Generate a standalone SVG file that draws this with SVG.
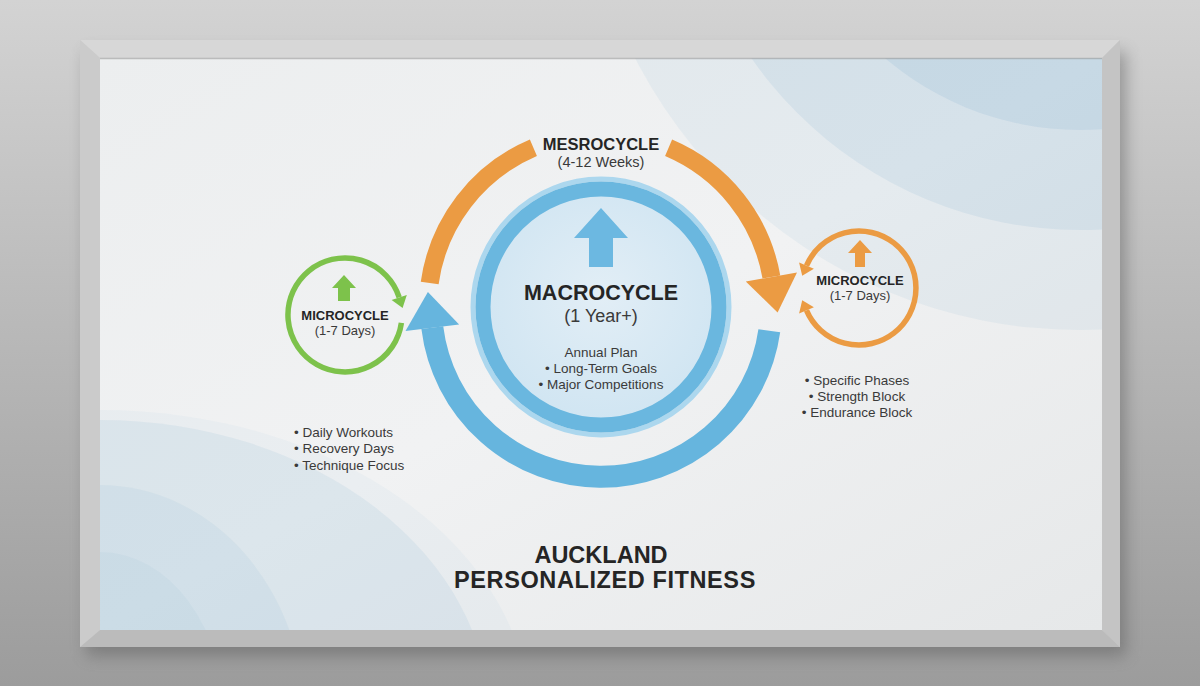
<svg xmlns="http://www.w3.org/2000/svg" width="1200" height="686" viewBox="0 0 1200 686">
<defs>
<linearGradient id="wall" x1="0" y1="0" x2="0" y2="1">
<stop offset="0" stop-color="#d3d3d3"/>
<stop offset="1" stop-color="#9c9c9c"/>
</linearGradient>
<linearGradient id="board" x1="0" y1="0" x2="1" y2="1">
<stop offset="0" stop-color="#eceeef"/>
<stop offset="0.5" stop-color="#f1f2f3"/>
<stop offset="1" stop-color="#e6e8e9"/>
</linearGradient>
<radialGradient id="disc" cx="0.5" cy="0.45" r="0.55">
<stop offset="0" stop-color="#e2eef6"/>
<stop offset="1" stop-color="#d0e5f2"/>
</radialGradient>
<filter id="shadow" x="-10%" y="-10%" width="120%" height="130%">
<feGaussianBlur stdDeviation="8"/>
</filter>
<clipPath id="boardClip"><rect x="100" y="58" width="1002" height="572"/></clipPath>
<style>
.bold{font-family:"Liberation Sans",Arial,sans-serif;font-weight:bold;fill:#252525;text-anchor:middle}
.reg{font-family:"Liberation Sans",Arial,sans-serif;fill:#3a3a3a;text-anchor:middle}
.deco{fill:#7fadd0}
.orange{fill:none;stroke:#eb9b43;stroke-width:18}
.blue{fill:none;stroke:#66b5de;stroke-width:22}
</style>
</defs>

<!-- wall -->
<rect x="0" y="0" width="1200" height="686" fill="url(#wall)"/>
<rect x="86" y="52" width="1040" height="604" fill="#555" opacity="0.45" filter="url(#shadow)"/>

<!-- frame -->
<g id="frame">
<rect x="80" y="40" width="1040" height="607" fill="#cfcfcf"/>
<polygon points="80,40 1120,40 1102,58 100,58" fill="#d7d7d7"/>
<polygon points="80,40 100,58 100,630 80,647" fill="#cbcbcb"/>
<polygon points="1120,40 1120,647 1102,630 1102,58" fill="#c4c4c4"/>
<polygon points="80,647 1120,647 1102,630 100,630" fill="#bbbbbb"/>
</g>

<!-- board -->
<rect x="100" y="58" width="1002" height="572" fill="url(#board)"/>
<g clip-path="url(#boardClip)">
<circle cx="1080" cy="-170" r="500" class="deco" opacity="0.10"/>
<circle cx="1080" cy="-170" r="400" class="deco" opacity="0.15"/>
<circle cx="1080" cy="-170" r="300" class="deco" opacity="0.17"/>
<ellipse cx="100" cy="720" rx="430" ry="310" class="deco" opacity="0.05"/>
<ellipse cx="100" cy="720" rx="390" ry="300" class="deco" opacity="0.12"/>
<ellipse cx="100" cy="720" rx="205" ry="235" class="deco" opacity="0.10"/>
<ellipse cx="100" cy="720" rx="125" ry="168" class="deco" opacity="0.08"/>
</g>
<line x1="100" y1="58.5" x2="1102" y2="58.5" stroke="#9a9a9a" stroke-width="1.5" opacity="0.6"/>

<!-- connectors -->
<g id="connectors">
<path class="orange" d="M 429.7 282.9 A 173 173 0 0 1 533.4 147.8"/>
<path class="orange" d="M 668.6 147.8 A 173 173 0 0 1 771.4 277.0"/>
<polygon points="797.0,272.5 745.8,281.5 777.6,312.5" fill="#eb9b43"/>
<path class="blue" d="M 769.3 330.7 A 170 170 0 0 1 432.3 327.7"/>
<polygon points="405.5,331.0 459.1,324.4 427.9,292.0" fill="#66b5de"/>
</g>

<!-- macrocycle -->
<g id="macrocycle">
<circle cx="601" cy="307" r="128" fill="none" stroke="#acd7ee" stroke-width="5"/>
<circle cx="601" cy="307" r="118" fill="url(#disc)" stroke="#6ab7df" stroke-width="15"/>
<polygon points="601,208 628,238 613,238 613,267 589,267 589,238 574,238" fill="#6cb8e1"/>
<text x="601" y="300" class="bold" font-size="21.5">MACROCYCLE</text>
<text x="601" y="322" class="reg" font-size="18" fill="#2e2e2e">(1 Year+)</text>
<text x="601" y="357" class="reg" font-size="13.5">Annual Plan</text>
<text x="601" y="373" class="reg" font-size="13.5">• Long-Term Goals</text>
<text x="601" y="389" class="reg" font-size="13.5">• Major Competitions</text>
</g>

<!-- mesocycle label -->
<g id="mesocycle">
<text x="601" y="150" class="bold" font-size="16.5">MESROCYCLE</text>
<text x="601" y="167" class="reg" font-size="14.5">(4-12 Weeks)</text>
</g>

<!-- left microcycle -->
<g id="microcycle-left">
<path d="M 401.4 322.9 A 57 57 0 1 1 399.2 297.4" fill="none" stroke="#7dc24b" stroke-width="5.5"/>
<polygon points="406.8,294.9 391.6,299.9 402.6,307.9" fill="#7dc24b"/>
<polygon points="344,275 356,288 350,288 350,301 338,301 338,288 332,288" fill="#7dc24b"/>
<text x="345" y="320" class="bold" font-size="13">MICROCYCLE</text>
<text x="345" y="335" class="reg" font-size="13">(1-7 Days)</text>
<text x="294" y="437" class="reg" font-size="13.5" style="text-anchor:start">• Daily Workouts</text>
<text x="294" y="453" class="reg" font-size="13.5" style="text-anchor:start">• Recovery Days</text>
<text x="294" y="470" class="reg" font-size="13.5" style="text-anchor:start">• Technique Focus</text>
</g>

<!-- right microcycle -->
<g id="microcycle-right">
<path d="M 806.5 265.7 A 57 57 0 1 1 806.5 310.3" fill="none" stroke="#eb9b43" stroke-width="5.5"/>
<polygon points="799.1,262.6 813.9,268.8 802.2,275.8" fill="#eb9b43"/>
<polygon points="799.1,313.4 813.9,307.2 802.2,300.2" fill="#eb9b43"/>
<polygon points="860,240 872,253 865,253 865,267 855,267 855,253 848,253" fill="#eb9b43"/>
<text x="860" y="285" class="bold" font-size="13">MICROCYCLE</text>
<text x="860" y="300" class="reg" font-size="13">(1-7 Days)</text>
<text x="857" y="385" class="reg" font-size="13.5">• Specific Phases</text>
<text x="857" y="401" class="reg" font-size="13.5">• Strength Block</text>
<text x="857" y="417" class="reg" font-size="13.5">• Endurance Block</text>
</g>

<!-- title -->
<g id="title">
<text x="601" y="563" class="bold" font-size="23.5" fill="#1e1e1e">AUCKLAND</text>
<text x="605" y="588" class="bold" font-size="23.5" fill="#1e1e1e" letter-spacing="0.6">PERSONALIZED FITNESS</text>
</g>
</svg>
